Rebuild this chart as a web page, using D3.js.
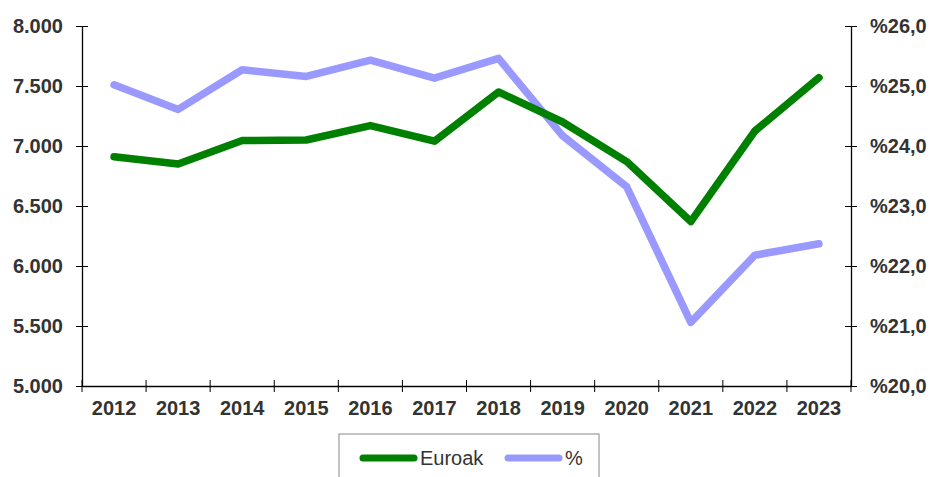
<!DOCTYPE html>
<html>
<head>
<meta charset="utf-8">
<script src="https://cdn.jsdelivr.net/npm/d3@7"></script>
<style>
  body { margin: 0; background: #fff; }
  svg { font-family: "Liberation Sans", Arial, sans-serif; }
</style>
</head>
<body>
<div id="chart"></div>
<script>
// Euroak (left axis) and % (right axis) by year

const years = ["2012","2013","2014","2015","2016","2017","2018","2019","2020","2021","2022","2023"];
const euroak = [6910, 6850, 7045, 7050, 7170, 7040, 7450, 7200, 6870, 6370, 7125, 7570];
const percent = [25.02, 24.61, 25.27, 25.16, 25.43, 25.13, 25.46, 24.17, 23.32, 21.06, 22.18, 22.37];
const leftTicks = [5000, 5500, 6000, 6500, 7000, 7500, 8000];
const rightTicks = [20, 21, 22, 23, 24, 25, 26];

const width = 931, height = 477;
const margin = {top: 26, right: 80, bottom: 91, left: 82};
const innerW = width - margin.left - margin.right;
const innerH = height - margin.top - margin.bottom;

const loc = d3.formatLocale({decimal: ",", thousands: ".", grouping: [3], currency: ["", "€"]});
const fmtLeft = loc.format(",.0f");
const fmtRight = loc.format(".1f");

const svg = d3.select("#chart")
  .append("svg")
  .attr("width", width)
  .attr("height", height)
  .append("g")
  .attr("transform", `translate(${margin.left}, ${margin.top})`);

const x = d3.scaleBand().domain(years).range([0, innerW]);
const yL = d3.scaleLinear().domain([5000, 8000]).range([innerH, 0]);
const yR = d3.scaleLinear().domain([20, 26]).range([innerH, 0]);

// left axis
const gl = svg.append("g")
  .call(d3.axisLeft(yL).tickValues(leftTicks).tickFormat(fmtLeft).tickSizeInner(6).tickSizeOuter(0).tickPadding(13));
gl.selectAll(".tick line").attr("x2", 6).attr("x1", -6);

// right axis
const gr = svg.append("g")
  .attr("transform", `translate(${innerW},0)`)
  .call(d3.axisRight(yR).tickValues(rightTicks).tickFormat(d => "%" + fmtRight(d)).tickSizeInner(6).tickSizeOuter(0).tickPadding(13));
gr.selectAll(".tick line").attr("x1", -6).attr("x2", 6);

// x axis with ticks between categories
const gx = svg.append("g")
  .attr("transform", `translate(0,${innerH})`)
  .call(d3.axisBottom(x).tickSize(0).tickPadding(15));
const bounds = d3.range(years.length + 1).map(i => i * x.step());
gx.selectAll(".sep")
  .data(bounds)
  .join("line")
  .attr("class", "sep")
  .attr("x1", d => d).attr("x2", d => d)
  .attr("y1", -6).attr("y2", 6)
  .attr("stroke", "#000");

[gl, gr, gx].forEach(g => {
  g.selectAll("text")
    .style("font-size", "20px")
    .style("font-weight", "bold")
    .attr("fill", "#333");
  g.select(".domain").attr("stroke", "#000").attr("stroke-width", 1.3);
});

// lines
const lineL = d3.line().x((d, i) => x(years[i]) + x.bandwidth() / 2).y(d => yL(d));
const lineR = d3.line().x((d, i) => x(years[i]) + x.bandwidth() / 2).y(d => yR(d));

svg.append("path")
  .datum(percent)
  .attr("d", lineR)
  .attr("fill", "none")
  .attr("stroke", "#9999ff")
  .attr("stroke-width", 7.5)
  .attr("stroke-linecap", "round")
  .attr("stroke-linejoin", "round");

svg.append("path")
  .datum(euroak)
  .attr("d", lineL)
  .attr("fill", "none")
  .attr("stroke", "#008000")
  .attr("stroke-width", 7.5)
  .attr("stroke-linecap", "round")
  .attr("stroke-linejoin", "round");

// legend
const lg = svg.append("g").attr("transform", `translate(${339 - margin.left},${434 - margin.top})`);
lg.append("rect")
  .attr("x", 0).attr("y", 0)
  .attr("width", 260).attr("height", 60)
  .attr("fill", "#fff")
  .attr("stroke", "#888");

const legendItems = [
  {name: "Euroak", color: "#008000", x0: 22},
  {name: "%", color: "#9999ff", x0: 167}
];
legendItems.forEach(it => {
  lg.append("line")
    .attr("x1", it.x0 + 2).attr("x2", it.x0 + 53)
    .attr("y1", 24).attr("y2", 24)
    .attr("stroke", it.color)
    .attr("stroke-width", 7)
    .attr("stroke-linecap", "round");
  lg.append("text")
    .attr("x", it.x0 + 59)
    .attr("y", 31)
    .style("font-size", "20px")
    .attr("fill", "#333")
    .text(it.name);
});
</script>
</body>
</html>
